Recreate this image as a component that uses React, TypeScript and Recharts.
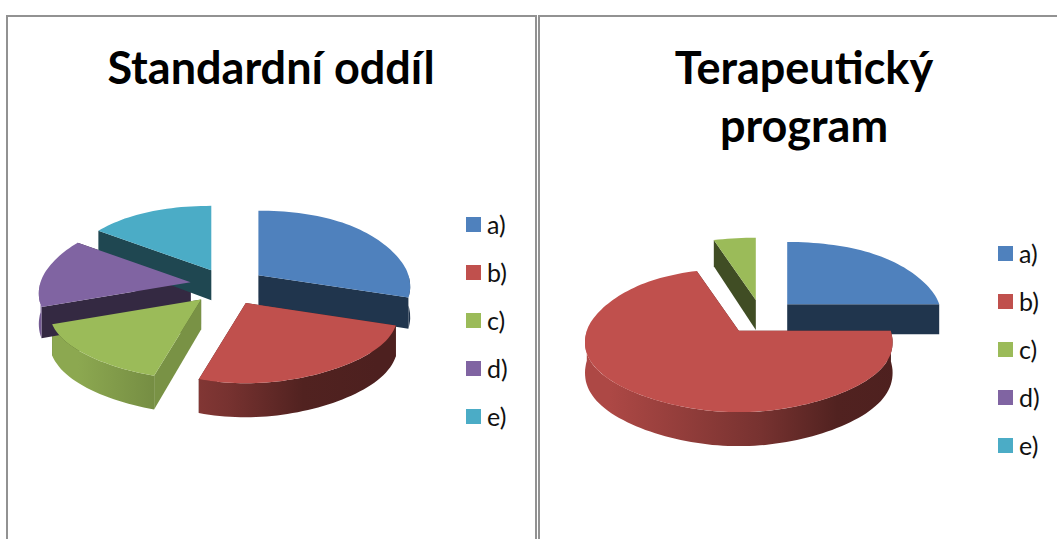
import { Legend, Pie, PieChart } from 'recharts';

const sliceLabels = ['a)', 'b)', 'c)', 'd)', 'e)'];
const sliceColors = ['#4F81BD', '#C0504D', '#9BBB59', '#8064A2', '#4BACC6'];
const standardValues = [29.5, 25.5, 15, 15.5, 14.5];
const therapyValues = [25, 70.5, 4.5, 0, 0];

const TILT_FRONT = 0.535;
const DEPTH = 30;
const FONT = 'Lato, "Open Sans", sans-serif';

const toRows = (values: number[]) =>
  sliceLabels.map((name, i) => ({ name, value: values[i], fill: sliceColors[i] }));

// darken a hex colour by a factor
function shade(hex: string, k: number) {
  const n = parseInt(hex.slice(1), 16);
  const ch = [(n >> 16) & 255, (n >> 8) & 255, n & 255].map((c) => Math.round(c * k));
  return `rgb(${ch[0]},${ch[1]},${ch[2]})`;
}

// recharts angles -> clockwise degrees from the top, plus a tilted projection
function project(props: any, explode: number, tiltBack: number) {
  const { cx, cy, outerRadius: R, startAngle, endAngle } = props;
  const from = 90 - startAngle;
  const to = 90 - endAngle;
  const mid = (((from + to) / 2) * Math.PI) / 180;
  const tilt = (c: number) => (c > 0 ? TILT_FRONT : tiltBack);
  const ox = cx + explode * Math.sin(mid);
  const oy = cy - explode * Math.cos(mid) * tilt(-Math.cos(mid));
  const at = (deg: number, r = 1, down = false) => {
    const t = (deg * Math.PI) / 180;
    const c = -Math.cos(t);
    // perspective: the near rim is fuller than an ellipse, the far rim flatter
    const w = 1 + (c > 0 ? 0.16 : -0.125) * Math.abs(c) * (1 - c * c);
    return {
      x: ox + R * r * Math.sin(t) * w,
      y: oy + R * c * r * tilt(c) + (down ? DEPTH + 4 * c * r : 0),
    };
  };
  return { from, to, at, R, cx };
}

const pathOf = (pts: { x: number; y: number }[]) =>
  pts.map((p, i) => `${i ? 'L' : 'M'}${p.x.toFixed(1)} ${p.y.toFixed(1)}`).join(' ') + ' Z';

function arc(at: any, a: number, b: number, down = false) {
  const pts = [];
  const steps = Math.max(2, Math.ceil(Math.abs(b - a) / 2));
  for (let i = 0; i <= steps; i++) pts.push(at(a + ((b - a) * i) / steps, 1, down));
  return pts;
}

const makeWalls = (chartId: string, explode: number, tiltBack: number) => (props: any) => {
  if (props.endAngle === props.startAngle) return <g />;
  const { from, to, at, R, cx } = project(props, explode, tiltBack);
  const fill = props.fill;
  const gradId = `${chartId}-wall-${props.index}`;
  const radial = (deg: number, k: number) => (
    <path
      d={pathOf([at(deg, 0), at(deg, 1), at(deg, 1, true), at(deg, 0, true)])}
      fill={shade(fill, k)}
    />
  );
  const a = Math.max(from, 90);
  const b = Math.min(to, 270);
  return (
    <g>
      <defs>
        <linearGradient id={gradId} gradientUnits="userSpaceOnUse" x1={cx - R} x2={cx + R} y1={0} y2={0}>
          <stop offset="0" stopColor={shade(fill, 0.9)} />
          <stop offset="0.5" stopColor={shade(fill, 0.62)} />
          <stop offset="0.75" stopColor={shade(fill, 0.42)} />
          <stop offset="1" stopColor={shade(fill, 0.4)} />
        </linearGradient>
      </defs>
      {radial(to, 0.41)}
      {radial(from, from > 180 && from < 230 ? 0.78 : 0.41)}
      {b > a && (
        <path
          d={pathOf([...arc(at, a, b), ...arc(at, b, a, true)])}
          fill={`url(#${gradId})`}
        />
      )}
    </g>
  );
};

const makeTop = (explode: number, tiltBack: number) => (props: any) => {
  if (props.endAngle === props.startAngle) return <g />;
  const { from, to, at } = project(props, explode, tiltBack);
  return <path d={pathOf([at(from, 0), ...arc(at, from, to)])} fill={props.fill} />;
};

function SquareLegend({ payload, rowHeight }: any) {
  // both Pie layers report their items, keep the first of each
  const items = (payload || []).filter(
    (item: any, i: number, all: any[]) => all.findIndex((o) => o.value === item.value) === i
  );
  return (
    <div>
      {items.map((item: any) => (
        <div
          key={item.value}
          style={{ height: rowHeight, display: 'flex', alignItems: 'center', fontFamily: FONT, fontSize: 25, color: '#111' }}
        >
          <span style={{ width: 15, height: 15, background: item.color, marginRight: 6 }} />
          {item.value}
        </div>
      ))}
    </div>
  );
}

function Chart3D({ id, values, left, width, cx, cy, radius, explode, tiltBack, legendLeft, legendTop }: any) {
  const rows = toRows(values);
  return (
    <div style={{ position: 'absolute', left, top: 0 }}>
      <PieChart width={width} height={539} margin={{ top: 0, right: 0, bottom: 0, left: 0 }}>
        <Pie
          data={rows}
          dataKey="value"
          nameKey="name"
          cx={cx}
          cy={cy}
          outerRadius={radius}
          startAngle={90}
          endAngle={-270}
          legendType="none"
          stroke="none"
          shape={makeWalls(id, explode, tiltBack)}
          isAnimationActive={false}
        />
        <Pie
          data={rows}
          dataKey="value"
          nameKey="name"
          cx={cx}
          cy={cy}
          outerRadius={radius}
          startAngle={90}
          endAngle={-270}
          legendType="square"
          stroke="none"
          shape={makeTop(explode, tiltBack)}
          isAnimationActive={false}
        />
        <Legend
          layout="vertical"
          content={<SquareLegend rowHeight={48} />}
          wrapperStyle={{ left: legendLeft, top: legendTop, width: 70, bottom: 'auto', right: 'auto' }}
        />
      </PieChart>
    </div>
  );
}

const titleStyle = {
  position: 'absolute',
  fontFamily: FONT,
  fontWeight: 700,
  fontSize: 45,
  lineHeight: '58px',
  color: '#000',
  textAlign: 'center',
  whiteSpace: 'pre-line',
} as const;

export default function App() {
  return (
    <div style={{ position: 'fixed', left: 0, top: 0, width: 1057, height: 539, overflow: 'hidden', background: '#fff' }}>
      <div style={{ position: 'absolute', left: 6, top: 15, width: 527, height: 600, border: '2px solid #929292' }} />
      <div style={{ position: 'absolute', left: 538, top: 15, width: 700, height: 600, border: '2px solid #929292' }} />
      <div style={{ ...titleStyle, left: 6, top: 38, width: 530 }}>Standardní oddíl</div>
      <div style={{ ...titleStyle, left: 604, top: 38, width: 400 }}>{'Terapeutický\nprogram'}</div>
      <Chart3D id="std" values={standardValues} left={0} width={537} cx={228} cy={285} radius={150} explode={38} tiltBack={0.43} legendLeft={466} legendTop={200} />
      <Chart3D id="ter" values={therapyValues} left={538} width={519} cx={223} cy={315} radius={152} explode={37} tiltBack={0.41} legendLeft={460} legendTop={229} />
    </div>
  );
}
